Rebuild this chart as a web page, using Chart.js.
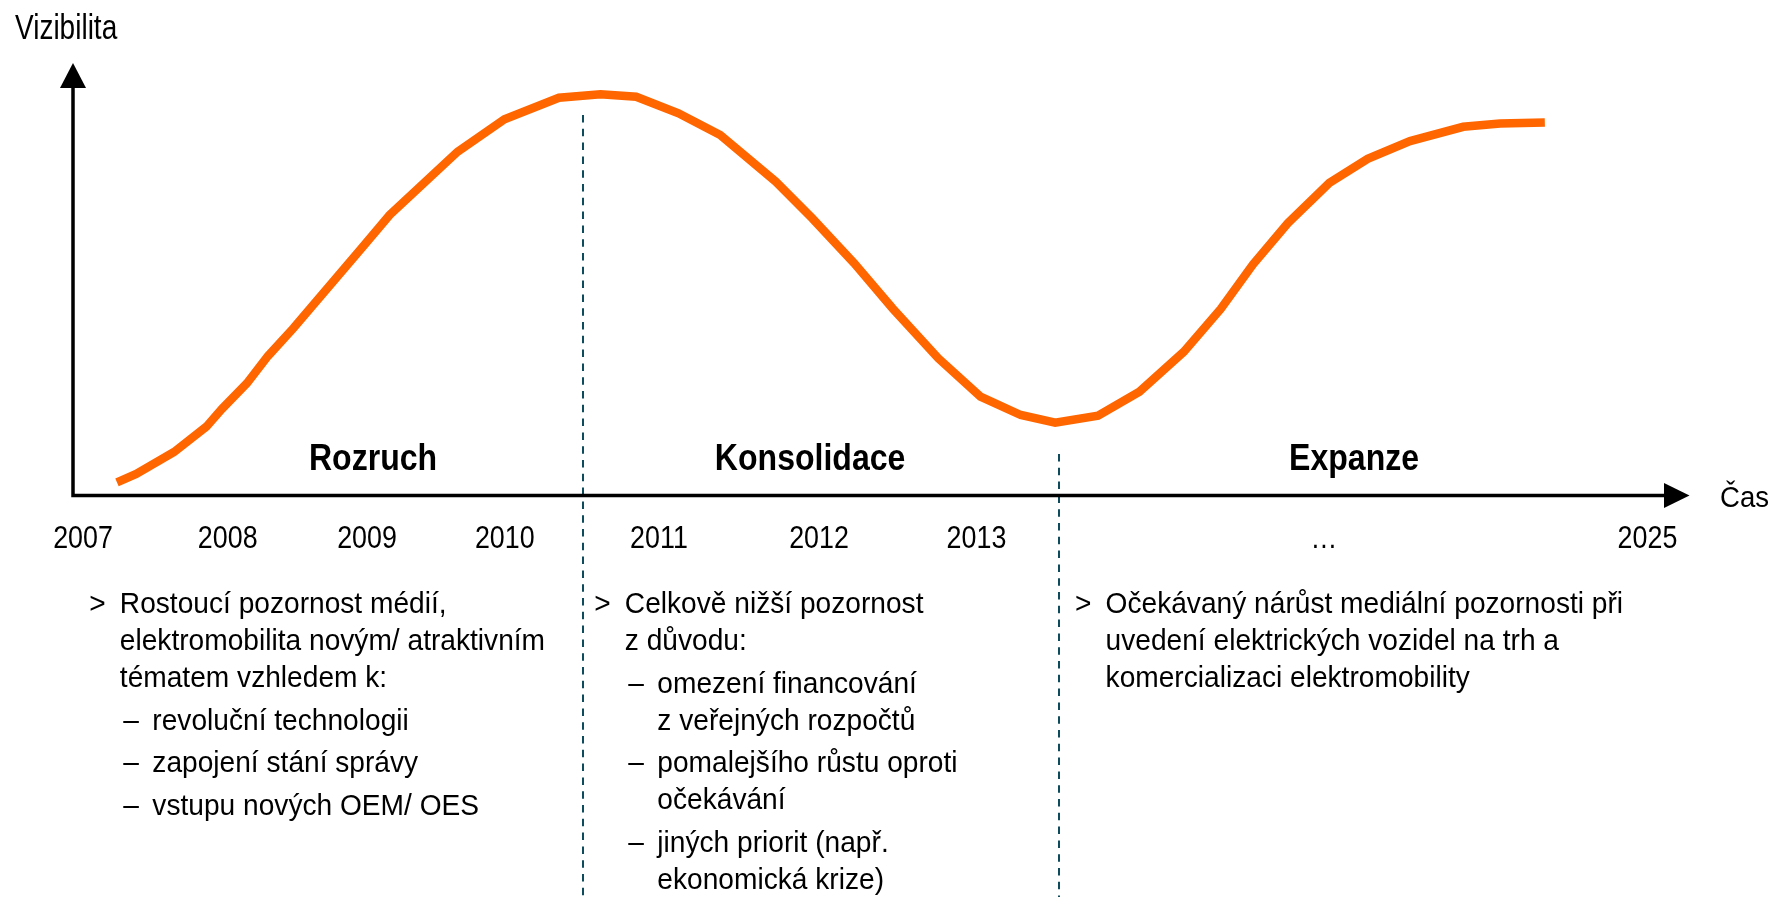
<!DOCTYPE html>
<html>
<head>
<meta charset="utf-8">
<script src="https://cdn.jsdelivr.net/npm/chart.js@4.4.1/dist/chart.umd.min.js"></script>
<style>
html,body{margin:0;padding:0;background:#fff;overflow:hidden}
canvas{display:block}
</style>
</head>
<body>
<canvas id="c" width="1774" height="897"></canvas>
<script>
// ---------- data (x: time axis units 0..100, y: visibility 0..100) ----------
const timePos = [2.72, 3.91, 6.25, 8.25, 9.21, 10.76, 12.06, 13.63, 17.85, 19.59, 23.79, 26.69,
  30.06, 32.63, 34.84, 37.46, 40.04, 43.48, 45.73, 48.33, 50.70, 53.53, 56.14, 58.63, 60.76,
  63.41, 65.97, 68.72, 71.00, 73.00, 75.15, 77.72, 80.09, 82.71, 86.00, 88.28, 91.05];
const visibility = [3.05, 4.97, 10.06, 15.91, 20.00, 25.94, 32.25, 38.66, 57.16, 64.86, 79.49, 86.98,
  91.98, 92.76, 92.21, 88.37, 83.35, 72.56, 64.09, 53.69, 43.28, 31.72, 22.84, 18.61, 16.83,
  18.45, 24.00, 33.23, 43.14, 53.46, 62.96, 72.28, 77.83, 81.94, 85.25, 85.99, 86.24];

const tickLabels = ['2007', '2008', '2009', '2010', '2011', '2012', '2013', '…', '2025'];
const tickPositions = [0.62, 9.57, 18.19, 26.71, 36.25, 46.15, 55.89, 77.39, 97.40];

const phaseNames = ['Rozruch', 'Konsolidace', 'Expanze'];
const phaseCenters = [18.56, 45.60, 79.25];
const phaseBoundaries = [31.52, 60.99];
const phaseBoundaryTops = [87.98, 9.60];

const yAxisTitle = 'Vizibilita';
const xAxisTitle = 'Čas';

const notesRozruch = [
  {sub: false, lines: ['Rostoucí pozornost médií,', 'elektromobilita novým/ atraktivním', 'tématem vzhledem k:']},
  {sub: true, lines: ['revoluční technologii']},
  {sub: true, lines: ['zapojení stání správy']},
  {sub: true, lines: ['vstupu nových OEM/ OES']}
];
const notesKonsolidace = [
  {sub: false, lines: ['Celkově nižší pozornost', 'z důvodu:']},
  {sub: true, lines: ['omezení financování', 'z veřejných rozpočtů']},
  {sub: true, lines: ['pomalejšího růstu oproti', 'očekávání']},
  {sub: true, lines: ['jiných priorit (např.', 'ekonomická krize)']}
];
const notesExpanze = [
  {sub: false, lines: ['Očekávaný nárůst mediální pozornosti při', 'uvedení elektrických vozidel na trh a', 'komercializaci elektromobility']}
];

// ---------- layout / style ----------
const FONT = '"Liberation Sans", Arial, Helvetica, sans-serif';
const noteColumns = [
  {anchor: 1.01, notes: notesRozruch},
  {anchor: 32.25, notes: notesKonsolidace},
  {anchor: 61.99, notes: notesExpanze}
];

function drawText(ctx, s, x, y, size, squeeze, align, bold) {
  ctx.save();
  ctx.font = (bold ? 'bold ' : '') + size + 'px ' + FONT;
  ctx.fillStyle = '#000';
  ctx.textBaseline = 'alphabetic';
  ctx.textAlign = align || 'left';
  ctx.translate(x, y);
  ctx.scale(squeeze, 1);
  ctx.fillText(s, 0, 0);
  ctx.restore();
}

const overlay = {
  id: 'overlay',
  beforeDatasetsDraw(chart) {
    const ctx = chart.ctx, xs = chart.scales.x, ys = chart.scales.y;
    // phase boundary dashed lines
    ctx.save();
    ctx.strokeStyle = '#0e4b5c';
    ctx.lineWidth = 2;
    ctx.setLineDash([7.5, 6.3]);
    phaseBoundaries.forEach((b, i) => {
      const px = Math.round(xs.getPixelForValue(b));
      ctx.beginPath();
      ctx.moveTo(px, ys.getPixelForValue(phaseBoundaryTops[i]));
      ctx.lineTo(px, chart.height);
      ctx.stroke();
    });
    ctx.restore();
  },
  afterDraw(chart) {
    const ctx = chart.ctx, a = chart.chartArea, xs = chart.scales.x;
    // axes
    ctx.save();
    ctx.strokeStyle = '#000';
    ctx.fillStyle = '#000';
    ctx.lineWidth = 3.5;
    ctx.beginPath();
    ctx.moveTo(a.left - 1.75, a.bottom);
    ctx.lineTo(a.right - 24, a.bottom);
    ctx.moveTo(a.left, a.bottom + 1.75);
    ctx.lineTo(a.left, a.top + 24);
    ctx.stroke();
    // arrow heads
    ctx.beginPath();
    ctx.moveTo(a.left, a.top);
    ctx.lineTo(a.left - 13, a.top + 25);
    ctx.lineTo(a.left + 13, a.top + 25);
    ctx.closePath();
    ctx.fill();
    ctx.beginPath();
    ctx.moveTo(a.right, a.bottom);
    ctx.lineTo(a.right - 25.5, a.bottom - 12.5);
    ctx.lineTo(a.right - 25.5, a.bottom + 12.5);
    ctx.closePath();
    ctx.fill();
    ctx.restore();

    // axis titles
    drawText(ctx, yAxisTitle, a.left - 58, a.top - 23.7, 35, 0.8, 'left');
    drawText(ctx, xAxisTitle, a.right + 30.5, a.bottom + 11.5, 29, 0.95, 'left');

    // tick labels
    tickLabels.forEach((t, i) => {
      drawText(ctx, t, xs.getPixelForValue(tickPositions[i]), a.bottom + 52.8, 30.5, 0.88, 'center');
    });

    // phase names
    phaseNames.forEach((n, i) => {
      drawText(ctx, n, xs.getPixelForValue(phaseCenters[i]), a.bottom - 26, 36, 0.89, 'center', true);
    });

    // notes
    noteColumns.forEach(col => {
      const x0 = xs.getPixelForValue(col.anchor);
      const xt = x0 + 30.5;
      let y = a.bottom + 117.5;
      let first = true;
      col.notes.forEach(item => {
        if (!first) y += 42.5;
        if (!item.sub) {
          drawText(ctx, '>', x0, y, 29, 0.97, 'left');
          item.lines.forEach((l, k) => {
            if (k > 0) y += 37;
            drawText(ctx, l, xt, y, 29, 0.97, 'left');
          });
        } else {
          drawText(ctx, '–', xt + 3.5, y, 29, 0.97, 'left');
          item.lines.forEach((l, k) => {
            if (k > 0) y += 37;
            drawText(ctx, l, xt + 32.5, y, 29, 0.97, 'left');
          });
        }
        first = false;
      });
    });
  }
};

new Chart(document.getElementById('c'), {
  type: 'line',
  data: {
    datasets: [{
      label: yAxisTitle,
      data: timePos.map((t, i) => ({x: t, y: visibility[i]})),
      borderColor: '#ff6600',
      borderWidth: 8.5,
      borderCapStyle: 'butt',
      borderJoinStyle: 'miter',
      pointRadius: 0,
      tension: 0,
      fill: false
    }]
  },
  options: {
    responsive: false,
    animation: false,
    devicePixelRatio: 1,
    events: [],
    layout: {padding: {left: 73, right: 84.5, top: 63, bottom: 401.5}},
    scales: {
      x: {type: 'linear', min: 0, max: 100, display: false},
      y: {type: 'linear', min: 0, max: 100, display: false}
    },
    plugins: {legend: {display: false}, tooltip: {enabled: false}, title: {display: false}}
  },
  plugins: [overlay]
});
</script>
</body>
</html>
